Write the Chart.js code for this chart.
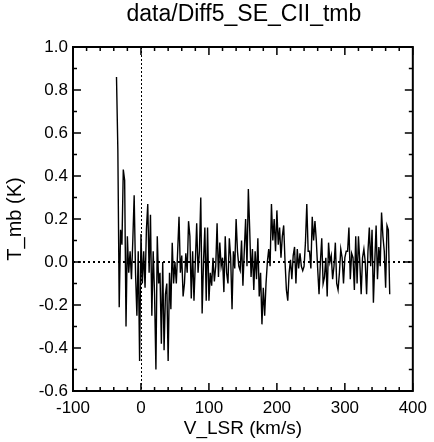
<!DOCTYPE html>
<html>
<head>
<meta charset="utf-8">
<script src="https://cdn.jsdelivr.net/npm/chart.js@4/dist/chart.umd.min.js"></script>
<style>
  html, body { margin: 0; padding: 0; background: #fff; }
</style>
</head>
<body>
<canvas id="specChart" width="434" height="442"></canvas>
<script>
const chartTitle = "data/Diff5_SE_CII_tmb";
const xLabel = "V_LSR (km/s)";
const yLabel = "T_mb (K)";

// channel velocities (km/s)
const velocities = [
  -36, -34, -32, -30, -28, -26, -24, -22, -20, -18,
  -16, -14, -12, -10, -8, -6, -4, -2, 0, 2,
  4, 6, 8, 10, 12, 14, 16, 18, 20, 22,
  24, 26, 28, 30, 32, 34, 36, 38, 40, 42,
  44, 46, 48, 50, 52, 54, 56, 58, 60, 62,
  64, 66, 68, 70, 72, 74, 76, 78, 80, 82,
  84, 86, 88, 90, 92, 94, 96, 98, 100, 102,
  104, 106, 108, 110, 112, 114, 116, 118, 120, 122,
  124, 126, 128, 130, 132, 134, 136, 138, 140, 142,
  144, 146, 148, 150, 152, 154, 156, 158, 160, 162,
  164, 166, 168, 170, 172, 174, 176, 178, 180, 182,
  184, 186, 188, 190, 192, 194, 196, 198, 200, 202,
  204, 206, 208, 210, 212, 214, 216, 218, 220, 222,
  224, 226, 228, 230, 232, 234, 236, 238, 240, 242,
  244, 246, 248, 250, 252, 254, 256, 258, 260, 262,
  264, 266, 268, 270, 272, 274, 276, 278, 280, 282,
  284, 286, 288, 290, 292, 294, 296, 298, 300, 302,
  304, 306, 308, 310, 312, 314, 316, 318, 320, 322,
  324, 326, 328, 330, 332, 334, 336, 338, 340, 342,
  344, 346, 348, 350, 352, 354, 356, 358, 360, 362,
  364, 366
];

// antenna temperature T_mb (K)
const tmb = [
  0.86, 0.52, -0.21, 0.15, 0.08, 0.43, 0.38, -0.30, 0.12, -0.05,
  0.05, -0.08, 0.10, 0.31, -0.05, -0.25, 0.05, -0.46, 0.13, -0.10,
  0.05, -0.12, 0.15, 0.27, -0.05, 0.22, -0.25, 0.05, -0.15, -0.50,
  0.12, -0.10, -0.05, -0.38, 0.00, -0.41, -0.15, -0.10, -0.46, -0.05,
  -0.22, 0.09, -0.10, 0.00, -0.10, 0.05, 0.21, -0.05, 0.03, -0.16,
  -0.10, 0.04, -0.05, 0.19, 0.12, -0.17, 0.05, -0.18, 0.00, 0.18,
  -0.05, 0.05, 0.30, -0.24, 0.00, 0.16, -0.18, 0.16, -0.18, -0.05,
  -0.11, 0.02, -0.09, -0.02, 0.18, -0.07, 0.09, -0.02, 0.02, -0.14,
  0.12, -0.05, -0.10, 0.11, 0.02, -0.22, 0.05, -0.03, 0.20, 0.05,
  -0.02, -0.04, 0.10, -0.11, 0.05, 0.20, -0.02, 0.34, 0.15, -0.07,
  0.06, -0.13, 0.05, -0.08, 0.11, -0.16, -0.05, -0.29, -0.12, -0.25,
  -0.10, 0.00, 0.06, -0.02, 0.27, 0.10, 0.20, 0.05, 0.24, 0.08,
  0.16, 0.02, 0.12, 0.17, 0.00, -0.13, -0.18, -0.05, 0.01, -0.08,
  0.03, 0.07, -0.10, 0.06, -0.03, 0.04, -0.02, -0.04, -0.02, 0.09,
  0.27, 0.05, 0.05, -0.03, 0.21, 0.10, 0.19, 0.10, -0.03, -0.15,
  0.00, 0.11, -0.10, -0.07, 0.02, -0.16, 0.09, 0.00, 0.03, -0.08,
  -0.02, 0.09, -0.10, -0.13, -0.05, 0.06, 0.02, -0.10, 0.02, 0.05,
  0.05, 0.16, -0.08, 0.04, 0.02, -0.13, 0.12, -0.10, 0.12, 0.00,
  -0.15, 0.02, 0.06, 0.00, -0.15, 0.05, 0.16, -0.02, 0.15, -0.19,
  0.00, 0.17, -0.08, 0.07, -0.02, 0.23, 0.12, 0.05, -0.12, 0.17,
  0.15, -0.15
];

const xTicks = [-100, 0, 100, 200, 300, 400];
const yTicks = [-0.6, -0.4, -0.2, 0.0, 0.2, 0.4, 0.6, 0.8, 1.0];
const xMinorStep = 20;
const yMinorStep = 0.1;

const FONT = "'Liberation Sans', Arial, Helvetica, sans-serif";

// frame, inward ticks on all four sides, dotted zero lines and the title
const frameTicks = {
  id: "frameTicks",
  beforeDatasetsDraw(chart) {
    const { ctx, chartArea: a, scales: { x, y } } = chart;
    ctx.save();
    ctx.strokeStyle = "#000";
    const x0 = Math.round(x.getPixelForValue(0)) + 0.5;
    const y0 = Math.round(y.getPixelForValue(0));
    ctx.lineWidth = 1;
    ctx.setLineDash([2, 2]);
    ctx.beginPath();
    ctx.moveTo(x0, a.top);
    ctx.lineTo(x0, a.bottom);
    ctx.stroke();
    ctx.lineWidth = 2;
    ctx.setLineDash([2, 3]);
    ctx.beginPath();
    ctx.moveTo(a.left, y0);
    ctx.lineTo(a.right, y0);
    ctx.stroke();
    ctx.restore();
  },
  afterDraw(chart) {
    const { ctx, chartArea: a, scales: { x, y } } = chart;
    ctx.save();
    ctx.strokeStyle = "#000";
    ctx.lineWidth = 2;
    ctx.strokeRect(a.left, a.top, a.right - a.left, a.bottom - a.top);

    const major = 8, minor = 4;
    ctx.lineWidth = 1.5;
    ctx.beginPath();
    for (let v = x.min; v <= x.max + 1e-6; v += xMinorStep) {
      const px = x.getPixelForValue(v);
      const len = xTicks.includes(Math.round(v)) ? major : minor;
      ctx.moveTo(px, a.bottom); ctx.lineTo(px, a.bottom - len);
      ctx.moveTo(px, a.top); ctx.lineTo(px, a.top + len);
    }
    for (let i = 0; i <= Math.round((y.max - y.min) / yMinorStep); i++) {
      const v = y.min + i * yMinorStep;
      const py = y.getPixelForValue(v);
      const len = i % 2 === 0 ? major : minor;
      ctx.moveTo(a.left, py); ctx.lineTo(a.left + len, py);
      ctx.moveTo(a.right, py); ctx.lineTo(a.right - len, py);
    }
    ctx.stroke();

    ctx.fillStyle = "#000";
    ctx.font = "23px " + FONT;
    ctx.textAlign = "center";
    ctx.textBaseline = "alphabetic";
    ctx.fillText(chartTitle, (a.left + a.right) / 2 + 1, 21);
    ctx.restore();
  }
};

const ctx = document.getElementById("specChart").getContext("2d");
const specChart = new Chart(ctx, {
  type: "line",
  data: {
    datasets: [
      {
        label: chartTitle,
        data: velocities.map((v, i) => ({ x: v, y: tmb[i] })),
        borderColor: "#000",
        borderWidth: 1.4,
        pointRadius: 0,
        tension: 0,
        fill: false,
      },
    ],
  },
  options: {
    responsive: false,
    animation: false,
    devicePixelRatio: 1,
    layout: { padding: { top: 47, right: 16, left: 0, bottom: 0 } },
    scales: {
      x: {
        type: "linear",
        min: -100,
        max: 400,
        afterBuildTicks: (scale) => {
          scale.ticks = xTicks.map((v) => ({ value: v }));
        },
        afterFit: (scale) => {
          scale.height = 51;
        },
        grid: { display: false, drawTicks: false },
        border: { display: false },
        ticks: {
          color: "#000",
          padding: 7,
          maxRotation: 0,
          font: { family: FONT, size: 17 },
        },
        title: {
          display: true,
          text: xLabel,
          color: "#000",
          padding: { top: 0, bottom: 2 },
          font: { family: FONT, size: 19 },
        },
      },
      y: {
        type: "linear",
        min: -0.6,
        max: 1.0,
        afterBuildTicks: (scale) => {
          scale.ticks = yTicks.map((v) => ({ value: v }));
        },
        afterFit: (scale) => {
          scale.width = 73;
        },
        grid: { display: false, drawTicks: false },
        border: { display: false },
        ticks: {
          color: "#000",
          padding: 5,
          font: { family: FONT, size: 17 },
          callback: (v) => Number(v).toFixed(1),
        },
        title: {
          display: true,
          text: yLabel,
          color: "#000",
          padding: { top: 3, bottom: 0 },
          font: { family: FONT, size: 20 },
        },
      },
    },
    plugins: {
      legend: { display: false },
      tooltip: { enabled: false },
    },
  },
  plugins: [frameTicks],
});
</script>
</body>
</html>
